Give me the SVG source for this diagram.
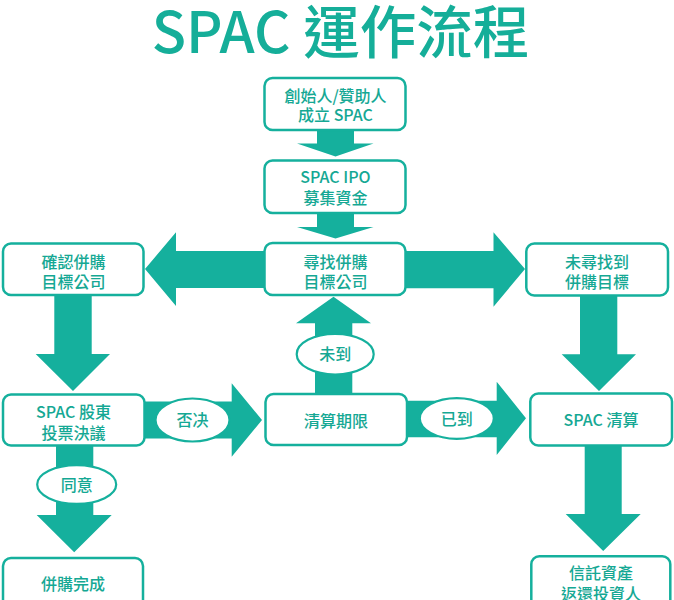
<svg xmlns="http://www.w3.org/2000/svg" width="674" height="600" viewBox="0 0 674 600">
<style>
.bg{fill:#ffffff}
.arrow{fill:#15B09D}
.box{fill:#ffffff;stroke:#15B09D;stroke-width:2.5}
.oval{fill:#ffffff;stroke:#15B09D;stroke-width:2.2}
.t{font-family:"Noto Sans CJK TC","Noto Sans",sans-serif;font-size:16px;font-weight:500;fill:#15A894;text-anchor:middle}
.title{font-family:"Noto Sans CJK TC","Noto Sans",sans-serif;font-size:56.5px;font-weight:500;fill:#15AE99;text-anchor:middle}
</style>
<rect class="bg" x="0" y="0" width="674" height="600"/>
<text class="title" x="340.5" y="53">SPAC 運作流程</text>
<g id="connectors">
  <path class="arrow" d="M317,128 H354 V143.5 H373.5 L335.5,156.5 L297,143.5 H317 Z"/>
  <path class="arrow" d="M317,211 H354 V227 H373.5 L335.5,238.5 L297,227 H317 Z"/>
  <path class="arrow" d="M266,251 V288 H176 V306 L145,269 L176,232.3 V251 Z"/>
  <path class="arrow" d="M405,251 H493.5 V232.3 L525,269 L493.5,306.7 V288.3 H405 Z"/>
  <path class="arrow" d="M54.3,294 H91.7 V354 H110 L73,391 L35.7,354 H54.3 Z"/>
  <path class="arrow" d="M580,294 H617.3 V354.3 H636 L599,391 L561.7,354.3 H580 Z"/>
  <path class="arrow" d="M143,401.5 H231.7 V383.3 L262,420 L231.7,456.7 V438.5 H143 Z"/>
  <path class="arrow" d="M315,395 V323.3 H296 L333.5,296.7 L371,323.3 H352.3 V395 Z"/>
  <path class="arrow" d="M406,400.7 H496.7 V381.7 L526,418.3 L496.7,455 V437.3 H406 Z"/>
  <path class="arrow" d="M56,444 H93.3 V515 H111.7 L74.2,552.3 L36.7,515 H56 Z"/>
  <path class="arrow" d="M584.7,444 H621.7 V514 H640.7 L603.2,551 L565.7,514 H584.7 Z"/>
  <g id="label-fou">
    <ellipse class="oval" cx="192.5" cy="420" rx="37" ry="21.5"/>
    <text class="t" x="192.5" y="426">否决</text>
  </g>
  <g id="label-weidao">
    <ellipse class="oval" cx="335.2" cy="354.2" rx="38.5" ry="20.3"/>
    <text class="t" x="335.2" y="360">未到</text>
  </g>
  <g id="label-yidao">
    <ellipse class="oval" cx="456.8" cy="418.5" rx="37" ry="20.3"/>
    <text class="t" x="456.8" y="424.5">已到</text>
  </g>
  <g id="label-tongyi">
    <ellipse class="oval" cx="76.7" cy="484.5" rx="39.5" ry="19.3"/>
    <text class="t" x="76.7" y="490.5">同意</text>
  </g>
</g>
<g id="node-founder">
  <rect class="box" x="264.5" y="78" width="141" height="52" rx="8"/>
  <text class="t" x="335.5" y="101.5">創始人/贊助人</text>
  <text class="t" x="335.5" y="121">成立 SPAC</text>
</g>
<g id="node-ipo">
  <rect class="box" x="264.5" y="160.5" width="141" height="52.5" rx="8"/>
  <text class="t" x="335.5" y="182.5">SPAC IPO</text>
  <text class="t" x="335.5" y="203.5">募集資金</text>
</g>
<g id="node-search">
  <rect class="box" x="264.5" y="243" width="141" height="52" rx="8"/>
  <text class="t" x="335.5" y="267.5">尋找併購</text>
  <text class="t" x="335.5" y="287.5">目標公司</text>
</g>
<g id="node-confirm">
  <rect class="box" x="3" y="243.5" width="140.5" height="51.5" rx="8"/>
  <text class="t" x="73.5" y="267.5">確認併購</text>
  <text class="t" x="73.5" y="287.5">目標公司</text>
</g>
<g id="node-notfound">
  <rect class="box" x="526.3" y="243.5" width="141.7" height="52" rx="8"/>
  <text class="t" x="597" y="267.5">未尋找到</text>
  <text class="t" x="597" y="287.5">併購目標</text>
</g>
<g id="node-vote">
  <rect class="box" x="3" y="394.5" width="141.5" height="51" rx="8"/>
  <text class="t" x="73.5" y="417.5">SPAC 股東</text>
  <text class="t" x="73.5" y="438.5">投票決議</text>
</g>
<g id="node-deadline">
  <rect class="box" x="265.5" y="394" width="141.5" height="51" rx="8"/>
  <text class="t" x="336" y="426.5">清算期限</text>
</g>
<g id="node-liquidate">
  <rect class="box" x="530.3" y="393.5" width="141.7" height="52" rx="8"/>
  <text class="t" x="601" y="425.5">SPAC 清算</text>
</g>
<g id="node-complete">
  <rect class="box" x="3" y="558" width="140" height="52" rx="8"/>
  <text class="t" x="73" y="590">併購完成</text>
</g>
<g id="node-refund">
  <rect class="box" x="531.3" y="556.3" width="139" height="52" rx="8"/>
  <text class="t" x="601" y="579">信託資產</text>
  <text class="t" x="601" y="599.5">返還投資人</text>
</g>
</svg>
